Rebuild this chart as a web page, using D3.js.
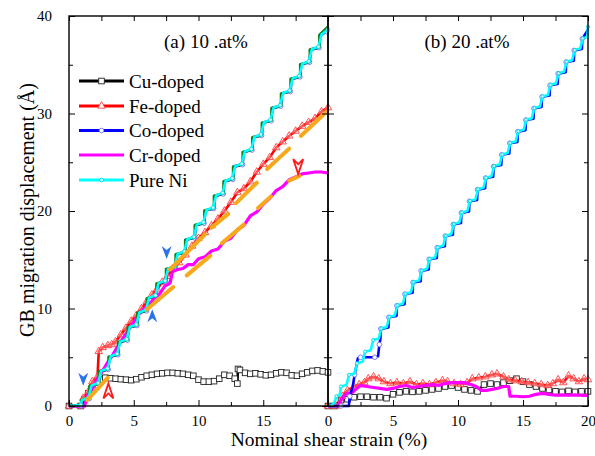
<!DOCTYPE html>
<html>
<head>
<meta charset="utf-8">
<script src="https://cdn.jsdelivr.net/npm/d3@7"></script>
<style>
  body { margin: 0; background: #fff; }
  text { font-family: "Liberation Serif", "Times New Roman", serif; fill: #000; }
</style>
</head>
<body>
<div id="chart"></div>
<script>
// ---- data: [strain %, displacement A] ----
// panel (a) 10 at%
const cuA = [[0,0],[0.9,0],[1.2,0.7],[1.5,1.3],[1.8,1.9],[2.1,2.4],[2.4,2.7],[2.8,2.9],[3.2,2.85],[3.6,2.8],[4.0,2.75],[4.4,2.7],[4.8,2.65],[5.2,2.75],[5.6,2.95],[6.0,3.1],[6.4,3.2],[6.8,3.3],[7.2,3.35],[7.6,3.4],[8.0,3.4],[8.4,3.35],[8.8,3.3],[9.2,3.2],[9.6,3.1],[10.0,2.7],[10.4,2.5],[10.8,2.5],[11.2,2.55],[11.6,2.8],[12.0,3.2],[12.4,3.1],[12.8,2.8],[13.0,2.3],[13.05,3.8],[13.2,3.7],[13.6,3.4],[14.0,3.3],[14.4,3.35],[14.8,3.25],[15.2,3.15],[15.6,3.2],[16.0,3.35],[16.4,3.45],[16.8,3.4],[17.2,3.15],[17.6,3.1],[18.0,3.3],[18.4,3.45],[18.8,3.6],[19.2,3.65],[19.6,3.55],[20.0,3.45]];
const feA = [[0,0],[0.9,0],[1.1,0.8],[1.5,1.5],[1.8,2.5],[2.2,3.0],[2.3,5.6],[2.6,6.0],[3.0,6.2],[3.3,6.3],[3.6,6.6],[4.0,7.3],[4.4,8.0],[4.8,8.7],[5.2,9.3],[5.6,10.0],[6.0,10.7],[6.4,11.4],[6.8,12.0],[7.2,12.7],[7.6,13.3],[8.0,14.1],[8.5,14.7],[9.0,15.5],[9.5,16.4],[10.0,17.2],[10.5,17.8],[11.0,18.5],[11.5,19.2],[12.0,20.0],[12.5,20.9],[13.0,21.9],[13.5,22.3],[14.0,23.0],[14.5,24.0],[15.0,24.8],[15.5,25.5],[16.0,26.5],[16.5,27.1],[17.0,27.7],[17.5,28.2],[18.0,28.7],[18.5,29.1],[19.0,29.5],[19.5,30.2],[20.0,30.6]];
const coA = [[0,0],[0.95,0],[1.05,0.5],[1.55,0.75],[1.66,2.05],[2.29,2.25],[2.40,3.55],[3.03,3.75],[3.14,5.05],[3.77,5.25],[3.88,6.55],[4.51,6.75],[4.62,8.05],[5.25,8.25],[5.36,9.55],[5.99,9.75],[6.10,11.05],[6.73,11.25],[6.84,12.55],[7.47,12.75],[7.58,14.05],[8.21,14.25],[8.32,15.55],[8.95,15.75],[9.06,17.05],[9.69,17.25],[9.80,18.55],[10.43,18.75],[10.54,20.05],[11.17,20.25],[11.28,21.55],[11.91,21.75],[12.02,23.05],[12.65,23.25],[12.76,24.55],[13.39,24.75],[13.50,26.05],[14.13,26.25],[14.24,27.55],[14.87,27.75],[14.98,29.05],[15.61,29.25],[15.72,30.55],[16.35,30.75],[16.46,32.05],[17.09,32.25],[17.20,33.55],[17.83,33.75],[17.94,35.05],[18.57,35.25],[18.68,36.55],[19.31,36.75],[19.42,38.05],[19.9,38.4]];
const crA = [[0,0],[1.2,0],[1.4,1.0],[1.8,1.8],[2.2,2.8],[2.6,3.6],[3.0,4.5],[3.4,5.3],[3.8,6.2],[4.2,7.0],[4.6,7.8],[5.0,8.6],[5.4,9.4],[5.8,10.0],[6.2,10.4],[6.6,11.1],[7.0,11.5],[7.4,12.3],[7.8,12.6],[8.0,13.8],[8.4,14.0],[8.8,14.1],[9.2,14.5],[9.6,14.5],[10.0,15.1],[10.5,15.3],[11.0,15.9],[11.5,16.1],[12.0,16.9],[12.5,17.2],[13.0,18.1],[13.5,18.5],[14.0,19.5],[14.5,19.9],[15.0,20.7],[15.5,21.3],[16.0,22.1],[16.5,22.5],[17.0,23.2],[17.5,23.5],[18.0,23.8],[18.5,23.9],[19.0,24.0],[19.5,24.0],[20.0,23.9]];
const niA = [[0,0],[0.9,0.1],[1.0,0.6],[1.5,0.85],[1.74,2.1],[2.24,2.35],[2.48,3.6],[2.98,3.85],[3.22,5.1],[3.72,5.35],[3.96,6.6],[4.46,6.85],[4.7,8.1],[5.2,8.35],[5.44,9.6],[5.94,9.85],[6.18,11.1],[6.68,11.35],[6.92,12.6],[7.42,12.85],[7.66,14.1],[8.16,14.35],[8.4,15.6],[8.9,15.85],[9.14,17.1],[9.64,17.35],[9.88,18.6],[10.38,18.85],[10.62,20.1],[11.12,20.35],[11.36,21.6],[11.86,21.85],[12.1,23.1],[12.6,23.35],[12.84,24.6],[13.34,24.85],[13.58,26.1],[14.08,26.35],[14.32,27.6],[14.82,27.85],[15.06,29.1],[15.56,29.35],[15.8,30.6],[16.3,30.85],[16.54,32.1],[17.04,32.35],[17.28,33.6],[17.78,33.85],[18.02,35.1],[18.52,35.35],[18.76,36.6],[19.26,36.85],[19.5,38.1],[20.0,38.6]];
// dark green risers under the Pure Ni staircase
const greenA = [[0,0],[0.95,0.1],[0.95,0.6],[1.58,0.8],[1.58,2.05],[2.32,2.3],[2.32,3.55],[3.06,3.8],[3.06,5.05],[3.80,5.3],[3.80,6.55],[4.54,6.8],[4.54,8.05],[5.28,8.3],[5.28,9.55],[6.02,9.8],[6.02,11.05],[6.76,11.3],[6.76,12.55],[7.50,12.8],[7.50,14.05],[8.24,14.3],[8.24,15.55],[8.98,15.8],[8.98,17.05],[9.72,17.3],[9.72,18.55],[10.46,18.8],[10.46,20.05],[11.20,20.3],[11.20,21.55],[11.94,21.8],[11.94,23.05],[12.68,23.3],[12.68,24.55],[13.42,24.8],[13.42,26.05],[14.16,26.3],[14.16,27.55],[14.90,27.8],[14.90,29.05],[15.64,29.3],[15.64,30.55],[16.38,30.8],[16.38,32.05],[17.12,32.3],[17.12,33.55],[17.86,33.8],[17.86,35.05],[18.60,35.3],[18.60,36.55],[19.34,36.8],[19.34,38.05],[20.0,38.9]];

// panel (b) 20 at%
const cuB = [[0,0],[0.5,0],[1.0,0.6],[1.5,0.7],[2.0,0.9],[2.5,0.95],[3.0,0.95],[3.5,0.9],[4.0,0.9],[4.5,0.8],[5.0,1.2],[5.5,1.4],[6.0,1.5],[6.5,1.45],[7.0,1.5],[7.5,1.6],[8.0,1.7],[8.5,1.8],[9.0,2.0],[9.5,2.1],[10.0,1.9],[10.5,1.7],[11.0,1.6],[11.5,1.5],[12.0,2.2],[12.5,2.3],[13.0,2.2],[13.5,2.4],[14.0,2.6],[14.5,2.8],[15.0,2.5],[15.5,2.2],[16.0,2.0],[16.5,1.8],[17.0,1.65],[17.5,1.5],[18.0,1.45],[18.5,1.55],[19.0,1.45],[19.5,1.5],[20.0,1.5]];
const feB = [[0,0],[0.6,0],[0.9,0.2],[1.1,1.0],[1.5,1.6],[2.0,2.0],[2.4,2.2],[2.8,2.4],[3.1,2.8],[3.5,3.0],[3.9,2.8],[4.3,2.5],[4.8,2.3],[5.3,2.4],[5.8,2.3],[6.3,2.5],[6.8,2.2],[7.3,2.3],[7.8,2.2],[8.3,2.4],[8.8,2.6],[9.2,2.5],[9.7,2.3],[10.2,2.2],[10.7,2.4],[11.1,2.8],[11.6,2.9],[12.1,3.0],[12.6,3.2],[13.0,3.3],[13.5,3.0],[13.9,2.7],[14.4,2.6],[14.9,2.5],[15.4,2.4],[15.9,2.3],[16.4,2.2],[16.9,2.1],[17.3,2.3],[17.7,2.7],[18.1,2.4],[18.5,3.1],[18.9,2.8],[19.3,2.5],[19.7,2.8],[20.0,2.7]];
const coB = [[0,0],[1.0,0],[1.6,0],[1.68,1.0],[1.9,2.0],[2.05,3.2],[2.3,4.9],[2.5,5.0],[3.0,5.0],[3.6,5.0],[3.85,5.1],[3.95,6.3],[4.03,6.86],[4.06,7.91],[4.65,8.05],[4.68,9.10],[5.27,9.24],[5.30,10.29],[5.89,10.43],[5.92,11.48],[6.51,11.62],[6.54,12.67],[7.13,12.81],[7.16,13.86],[7.75,14.00],[7.78,15.05],[8.37,15.19],[8.40,16.24],[8.99,16.38],[9.02,17.43],[9.61,17.57],[9.64,18.62],[10.23,18.76],[10.26,19.81],[10.85,19.95],[10.88,21.00],[11.47,21.14],[11.50,22.19],[12.09,22.33],[12.12,23.38],[12.71,23.52],[12.74,24.57],[13.33,24.71],[13.36,25.76],[13.95,25.90],[13.98,26.95],[14.57,27.09],[14.60,28.14],[15.19,28.28],[15.22,29.33],[15.81,29.47],[15.84,30.52],[16.43,30.66],[16.46,31.71],[17.05,31.85],[17.08,32.90],[17.67,33.04],[17.70,34.09],[18.29,34.23],[18.32,35.28],[18.91,35.42],[18.94,36.47],[19.53,36.61],[19.56,37.66],[20.0,38.6]];
const crB = [[0,0],[0.8,0],[1.0,0.6],[1.2,1.0],[1.5,1.3],[1.9,1.4],[2.2,1.8],[2.5,2.1],[3.0,2.0],[3.5,1.9],[4.0,1.8],[4.5,1.7],[5.0,1.8],[5.5,2.0],[6.0,2.1],[6.5,1.9],[7.0,2.0],[7.5,2.1],[8.0,2.2],[8.5,2.1],[9.0,2.3],[9.5,2.4],[10.0,2.4],[10.5,2.4],[11.0,2.2],[11.4,2.0],[11.8,1.6],[12.2,1.6],[12.6,1.7],[13.0,1.8],[13.5,2.0],[13.9,2.0],[14.0,1.0],[14.5,1.0],[15.0,0.95],[15.5,1.0],[16.0,1.2],[16.5,1.3],[17.0,1.2],[17.5,1.1],[18.0,1.15],[18.5,1.1],[19.0,1.15],[19.5,1.1],[20.0,1.1]];
const niB = [[0,0],[0.3,0.05],[0.5,0.4],[0.65,1.0],[0.9,1.1],[1.0,2.0],[1.42,2.15],[1.62,3.19],[2.04,3.34],[2.24,4.38],[2.66,4.53],[2.86,5.57],[3.28,5.72],[3.48,6.76],[3.90,6.91],[4.10,7.95],[4.52,8.10],[4.72,9.14],[5.14,9.29],[5.34,10.33],[5.76,10.48],[5.96,11.52],[6.38,11.67],[6.58,12.71],[7.00,12.86],[7.20,13.90],[7.62,14.05],[7.82,15.09],[8.24,15.24],[8.44,16.28],[8.86,16.43],[9.06,17.47],[9.48,17.62],[9.68,18.66],[10.10,18.81],[10.30,19.85],[10.72,20.00],[10.92,21.04],[11.34,21.19],[11.54,22.23],[11.96,22.38],[12.16,23.42],[12.58,23.57],[12.78,24.61],[13.20,24.76],[13.40,25.80],[13.82,25.95],[14.02,26.99],[14.44,27.14],[14.64,28.18],[15.06,28.33],[15.26,29.37],[15.68,29.52],[15.88,30.56],[16.30,30.71],[16.50,31.75],[16.92,31.90],[17.12,32.94],[17.54,33.09],[17.74,34.13],[18.16,34.28],[18.36,35.32],[18.78,35.47],[18.98,36.51],[19.40,36.66],[19.60,37.70],[19.95,37.85],[20.0,38.9]];

// orange guide segments in panel (a): [x1, y1, x2, y2]
const guidesA = [[1.4,0.6,3.0,2.9],[6.0,9.9,8.05,12.2],[7.8,14.0,10.5,17.6],[11.0,18.3,12.3,19.7],[9.1,13.4,10.9,15.4],[11.8,16.7,13.5,18.6],[12.9,20.8,14.5,22.9],[14.6,20.3,15.6,21.5],[15.3,24.3,17.0,26.4],[17.0,23.1,17.8,23.6],[17.9,27.7,19.9,30.2]];
// arrow marks in panel (a): [x, y, direction]
const blueArrows = [[1.1,2.7,'down'],[7.54,15.7,'down'],[6.43,9.3,'up']];
const redArrows = [[3.04,1.6,'up'],[17.7,24.5,'down']];

const xMajorA = [0,5,10,15], xMajorB = [0,5,10,15,20];
const xMinor = [2.5,7.5,12.5,17.5];
const yMajor = [0,10,20,30,40], yMinor = [5,15,25,35];
const seriesNames = ['Cu-doped','Fe-doped','Co-doped','Cr-doped','Pure Ni'];
const seriesColors = ['#000000','#ff0000','#0000ff','#ff00ff','#00ffff'];

// ---- drawing ----
const svg = d3.select('#chart').append('svg').attr('width',595).attr('height',456);
const xA = d3.scaleLinear().domain([0,20]).range([69,328]);
const xB = d3.scaleLinear().domain([0,20]).range([328,588]);
const y = d3.scaleLinear().domain([0,40]).range([406,16]);

function drawLine(x, data, color, width) {
  svg.append('path').datum(data)
    .attr('fill','none').attr('stroke',color).attr('stroke-width',width)
    .attr('stroke-linejoin','round')
    .attr('d', d3.line().x(d => x(d[0])).y(d => y(d[1])));
}
function squares(x, data) {
  svg.append('g').selectAll('rect').data(data).enter().append('rect')
    .attr('x', d => x(d[0]) - 2.8).attr('y', d => y(d[1]) - 2.8)
    .attr('width',5.6).attr('height',5.6)
    .attr('fill','#fff').attr('stroke','#222').attr('stroke-width',0.9);
}
function triangles(x, data) {
  svg.append('g').selectAll('path').data(data).enter().append('path')
    .attr('d', d3.symbol(d3.symbolTriangle, 24))
    .attr('transform', d => 'translate(' + x(d[0]) + ',' + y(d[1]) + ')')
    .attr('fill','#fff').attr('fill-opacity',0.35).attr('stroke','#ff4040').attr('stroke-width',0.9);
}
function circles(x, data, fill, stroke, r) {
  svg.append('g').selectAll('circle').data(data).enter().append('circle')
    .attr('cx', d => x(d[0])).attr('cy', d => y(d[1])).attr('r', r)
    .attr('fill', fill).attr('stroke', stroke).attr('stroke-width',0.9);
}
const everyOther = data => data.filter((d, i) => i % 2 === 1);

// panel (a)
drawLine(xA, cuA, '#000', 2.6); squares(xA, cuA);
drawLine(xA, feA, '#ff0000', 2.6); triangles(xA, feA);
drawLine(xA, coA, '#0000ff', 2.6); circles(xA, everyOther(coA), '#fff', '#7070ff', 2.3);
drawLine(xA, crA, '#ff00ff', 3.2);
drawLine(xA, greenA, '#1a7a1a', 2.8);
drawLine(xA, niA, '#00ffff', 2.6); circles(xA, everyOther(niA), '#c8ffff', '#00d8e8', 1.9);

// panel (b)
drawLine(xB, cuB, '#000', 2.6); squares(xB, cuB);
drawLine(xB, feB, '#ff0000', 2.6); triangles(xB, feB);
drawLine(xB, crB, '#ff00ff', 3.2);
drawLine(xB, coB, '#0000ff', 2.6); circles(xB, everyOther(coB), '#fff', '#7070ff', 2.3);
drawLine(xB, niB, '#00ffff', 2.6); circles(xB, everyOther(niB), '#c8ffff', '#00d8e8', 1.6);

// orange guides
svg.append('g').selectAll('line').data(guidesA).enter().append('line')
  .attr('x1', d => xA(d[0])).attr('y1', d => y(d[1]))
  .attr('x2', d => xA(d[2])).attr('y2', d => y(d[3]))
  .attr('stroke','#f7a81b').attr('stroke-width',4).attr('stroke-linecap','round');

// arrows
svg.append('g').selectAll('path').data(blueArrows).enter().append('path')
  .attr('d', d => d[2] === 'down' ? 'M-5,-7L0,6L5,-7L0,-3Z' : 'M-5,7L0,-6L5,7L0,3Z')
  .attr('transform', d => 'translate(' + xA(d[0]) + ',' + y(d[1]) + ')')
  .attr('fill','#2a73e8');
svg.append('g').selectAll('path').data(redArrows).enter().append('path')
  .attr('d', d => d[2] === 'down' ? 'M-5,-8L0,7L5,-8L0,-3Z' : 'M-5,8L0,-7L5,8L0,3Z')
  .attr('transform', d => 'translate(' + xA(d[0]) + ',' + y(d[1]) + ')')
  .attr('fill','#fff').attr('stroke','#ff1a1a').attr('stroke-width',1.8);

// axes with inward ticks
function axes(x, majors) {
  svg.append('g').attr('transform','translate(0,406)')
    .call(d3.axisBottom(x).tickValues(majors).tickSizeInner(-6).tickSizeOuter(0).tickPadding(9))
    .call(g => g.select('.domain').remove());
  svg.append('g').attr('transform','translate(0,406)')
    .call(d3.axisBottom(x).tickValues(xMinor).tickSizeInner(-4).tickSizeOuter(0).tickFormat(''))
    .call(g => g.select('.domain').remove());
  svg.append('g').attr('transform','translate(0,16)')
    .call(d3.axisTop(x).tickValues(xMajorB.concat(xMinor)).tickSizeInner(-5).tickSizeOuter(0).tickFormat(''))
    .call(g => g.select('.domain').remove());
  const l = x.range()[0], r = x.range()[1];
  [[l, d3.axisRight], [r, d3.axisLeft]].forEach(([px, ax]) => {
    svg.append('g').attr('transform','translate(' + px + ',0)')
      .call(ax(y).tickValues(yMajor).tickSizeInner(6).tickSizeOuter(0).tickFormat(''))
      .call(g => g.select('.domain').remove());
    svg.append('g').attr('transform','translate(' + px + ',0)')
      .call(ax(y).tickValues(yMinor).tickSizeInner(4).tickSizeOuter(0).tickFormat(''))
      .call(g => g.select('.domain').remove());
  });
  svg.append('rect').attr('x', l).attr('y', 16).attr('width', r - l).attr('height', 390)
    .attr('fill','none').attr('stroke','#000').attr('stroke-width',1.4);
}
axes(xA, xMajorA);
axes(xB, xMajorB);

// y tick labels
svg.append('g').attr('transform','translate(69,0)')
  .call(d3.axisLeft(y).tickValues(yMajor).tickSize(0).tickPadding(17))
  .call(g => g.select('.domain').remove());
svg.selectAll('.tick text').style('font-family','"Liberation Serif", serif').style('font-size','15px').attr('fill','#000');

// titles
svg.append('text').attr('x',206).attr('y',48).attr('text-anchor','middle').style('font-size','19px').text('(a) 10 .at%');
svg.append('text').attr('x',467).attr('y',48).attr('text-anchor','middle').style('font-size','19px').text('(b) 20 .at%');
svg.append('text').attr('x',329).attr('y',446).attr('text-anchor','middle').style('font-size','19.5px').text('Nominal shear strain (%)');
svg.append('text').attr('transform','translate(34,210) rotate(-90)').attr('text-anchor','middle').style('font-size','20px').text('GB migration displacement (\u00C5)');

// legend
const legY = [81,106,130.5,155,180];
seriesNames.forEach((name, i) => {
  const g = svg.append('g');
  g.append('line').attr('x1',79).attr('x2',124).attr('y1',legY[i]).attr('y2',legY[i])
    .attr('stroke',seriesColors[i]).attr('stroke-width',3);
  if (i === 0) g.append('rect').attr('x',98.7).attr('y',legY[i]-2.8).attr('width',5.6).attr('height',5.6).attr('fill','#fff').attr('stroke','#222').attr('stroke-width',0.9);
  if (i === 1) g.append('path').attr('d', d3.symbol(d3.symbolTriangle, 24)).attr('transform','translate(101.5,' + legY[i] + ')').attr('fill','#fff').attr('stroke','#ff4040').attr('stroke-width',0.9);
  if (i === 2) g.append('circle').attr('cx',101.5).attr('cy',legY[i]).attr('r',2.3).attr('fill','#fff').attr('stroke','#7070ff').attr('stroke-width',0.9);
  if (i === 4) g.append('circle').attr('cx',101.5).attr('cy',legY[i]).attr('r',1.9).attr('fill','#c8ffff').attr('stroke','#00d8e8').attr('stroke-width',0.9);
  g.append('text').attr('x',129).attr('y',legY[i] + 6.5).style('font-size','19px').text(name);
});
</script>
</body>
</html>
